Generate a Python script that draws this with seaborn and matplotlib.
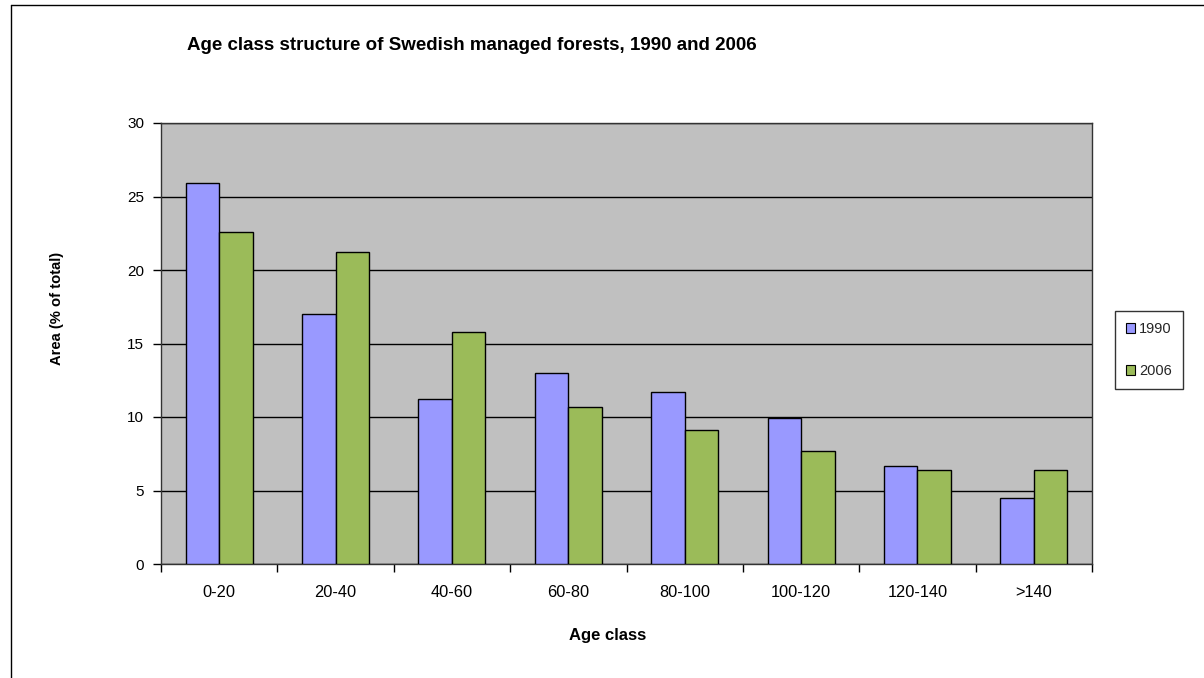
import matplotlib
matplotlib.use("Agg")
import matplotlib.pyplot as plt
import seaborn as sns
import pandas as pd
from matplotlib.lines import Line2D

categories = ["0-20", "20-40", "40-60", "60-80", "80-100", "100-120", "120-140", ">140"]
values_1990 = [25.9, 17.0, 11.2, 13.0, 11.7, 9.9, 6.7, 4.5]
values_2006 = [22.6, 21.25, 15.8, 10.7, 9.1, 7.7, 6.4, 6.4]
series = ["1990", "2006"]
colors = ["#9999FF", "#9BBB59"]

df = pd.DataFrame({
    "Age class": categories * 2,
    "Area": values_1990 + values_2006,
    "Year": [series[0]] * len(categories) + [series[1]] * len(categories),
})

sns.set_theme(style="white")
plt.rcParams["font.family"] = ["Liberation Sans", "DejaVu Sans"]

fig = plt.figure(figsize=(12.04, 6.78), dpi=100)
ax = fig.add_axes([161 / 1204, 1 - 564 / 678, (1092 - 161) / 1204, (564 - 123) / 678])

sns.barplot(data=df, x="Age class", y="Area", hue="Year", hue_order=series,
            palette=colors, width=0.575, edgecolor="black", linewidth=1.0,
            saturation=1, ax=ax, legend=True, zorder=3)

ax.set_facecolor("#C0C0C0")
ax.set_ylim(0, 30)
ax.set_xlim(-0.5, len(categories) - 0.5)
ax.set_yticks([0, 5, 10, 15, 20, 25, 30])
ax.yaxis.grid(True, color="black", linewidth=1.0, zorder=0)
ax.set_axisbelow(True)
for s in ax.spines.values():
    s.set_color("#333333")
    s.set_linewidth(1.0)

# x ticks at category boundaries, labels centered
ax.set_xticks([i + 0.5 for i in range(-1, len(categories))], minor=False)
ax.set_xticklabels([])
ax.set_xticks(range(len(categories)), minor=True)
ax.set_xticklabels(categories, minor=True)
ax.tick_params(axis="x", which="major", direction="out", length=6, width=1, color="black", bottom=True)
ax.tick_params(axis="x", which="minor", length=0, labelsize=11.8, pad=15, labelcolor="black")
ax.tick_params(axis="y", direction="out", length=6, width=1, color="black", left=True, labelsize=11, pad=6, labelcolor="black")

ax.set_xlabel("Age class", fontsize=12, fontweight="bold", color="black")
ax.set_ylabel("Area (% of total)", fontsize=10.6, fontweight="bold", color="black")
ax.yaxis.set_label_coords(-0.104, (564 - 308) / 441)
ax.xaxis.set_label_coords((608 - 161) / 931, -0.145)

fig.text(471.5 / 1204, 1 - 46 / 678, "Age class structure of Swedish managed forests, 1990 and 2006",
         ha="center", va="center", fontsize=13.5, fontweight="bold", color="black")

leg = ax.legend(loc="center left", bbox_to_anchor=(1.0247, (564 - 350) / 441), frameon=True,
                fontsize=10.5, handlelength=0.65, handleheight=0.65, handletextpad=0.25,
                labelspacing=1.9, borderpad=0.75, borderaxespad=0, fancybox=False)
leg.get_frame().set_edgecolor("black")
leg.get_frame().set_linewidth(1.0)
for h in leg.legend_handles:
    h.set_edgecolor("black")
    h.set_linewidth(0.8)

# outer chart border (left and top visible)
fig.add_artist(Line2D([11 / 1204, 11 / 1204], [0, 1 - 5 / 678], color="black", linewidth=1.0,
                      transform=fig.transFigure))
fig.add_artist(Line2D([11 / 1204, 1], [1 - 5 / 678, 1 - 5 / 678], color="black", linewidth=1.0,
                      transform=fig.transFigure))

fig.savefig("out.png", dpi=100)
